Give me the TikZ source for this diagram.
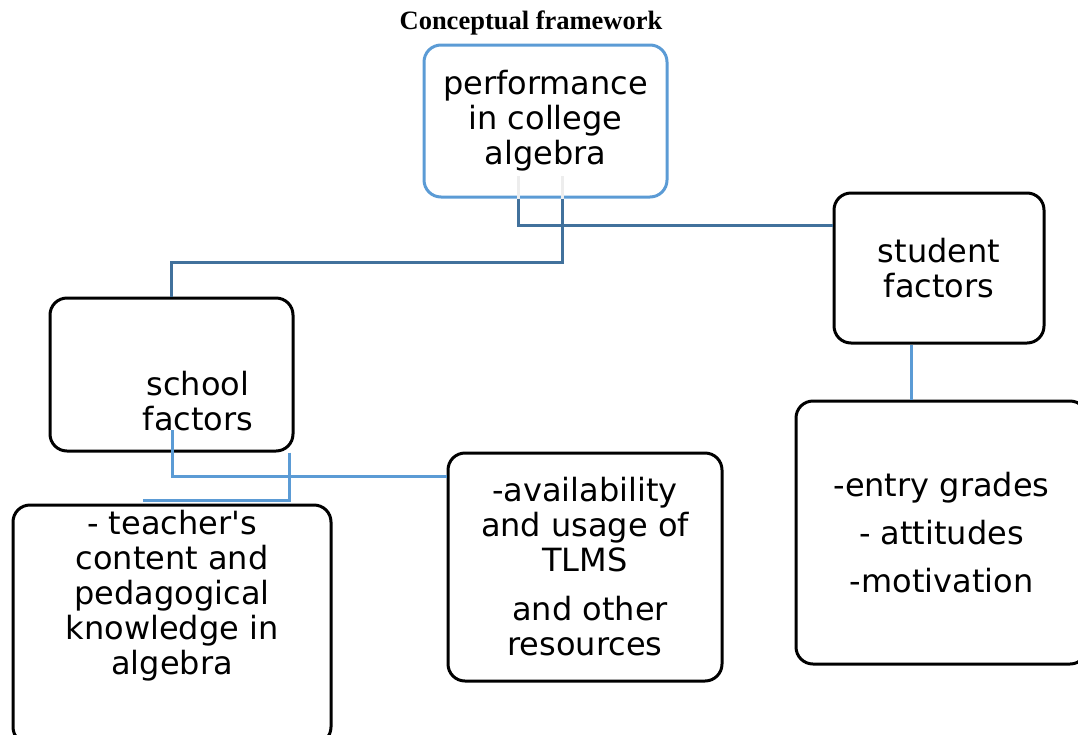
\documentclass[tikz,border=0pt]{standalone}
\usepackage{fontspec}
\setmainfont{DejaVu Sans}
\newfontfamily\titlefont{Liberation Serif}
\usepackage{xcolor}
\definecolor{boxblue}{HTML}{5B9BD5}
\definecolor{linkblue}{HTML}{41719C}
\newcommand{\boxfont}{\fontsize{32}{35}\selectfont}

\begin{document}
\begin{tikzpicture}[x=1pt,y=-1pt,
  box/.style={draw=black,line width=3pt,rounded corners=17pt,align=center,font=\boxfont},
  topbox/.style={box,draw=boxblue},
  txt/.style={align=center,font=\boxfont,inner sep=0pt},
  link/.style={draw=linkblue,line width=3pt},
  linkpale/.style={draw=boxblue,line width=3pt},
  ghost/.style={draw=black!7,line width=3pt}]
\useasboundingbox (0,0) rectangle (1078,734);
\clip (0,0) rectangle (1078,734);

\node[font=\titlefont\bfseries\fontsize{26.5}{30}\selectfont] (title) at (531,23) {Conceptual framework};

% boxes
\node[topbox,minimum width=243,minimum height=152] (perf) at (545.5,121) {performance\\in college\\algebra};
\node[box,minimum width=210,minimum height=150] (student) at (939,268) {student\\factors};
\node[box,minimum width=243,minimum height=153] (school) at (171.5,374.5) {};
\node[txt] (schooltxt) at (198,401) {school\\factors};
\node[box,minimum width=318,minimum height=239] (teacher) at (172,624.5) {};
\node[txt] (teachertxt) at (172,596) {- teacher\textquotesingle s\\content and\\pedagogical\\knowledge in\\algebra};
\node[box,minimum width=274,minimum height=228] (avail) at (585,567) {-availability\\and usage of\\TLMS\\[14pt]~and other\\resources};
\node[box,minimum width=291,minimum height=263,font=\fontsize{32}{48}\selectfont] (entry) at (941.5,532.5) {-entry grades\\- attitudes\\-motivation};

% joints of the connectors
\coordinate (j1) at (518,225);
\coordinate (j2) at (562,262);
\coordinate (j3) at (911,370);
\coordinate (s1) at (172,430);
\coordinate (j4) at (172,476);
\coordinate (j5) at (289,500);
\coordinate (j6) at (143,500);

\draw[ghost] (perf.south -| j1) -- ++(0,-23);
\draw[ghost] (perf.south -| j2) -- ++(0,-23);
\draw[link] (perf.south -| j1) -- (j1) -- (j1 -| student.west);
\draw[link] (perf.south -| j2) -- (j2) -| (school.north);
\draw[linkpale] (student.south -| j3) -- (entry.north -| j3);
\draw[linkpale] (s1) -- (j4) -- (j4 -| avail.west);
\draw[linkpale] (school.south -| j5) -- (j5) -- (j6);
\end{tikzpicture}
\end{document}
